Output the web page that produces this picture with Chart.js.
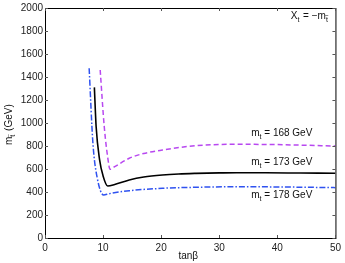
<!DOCTYPE html>
<html>
<head>
<meta charset="utf-8">
<script src="https://cdn.jsdelivr.net/npm/chart.js@4"></script>
<style>
  html, body { margin: 0; padding: 0; background: #fff; }
  #wrap { width: 345px; height: 263px; }
</style>
</head>
<body>
<div id="wrap"><canvas id="c" width="345" height="263"></canvas></div>
<script>
// tanβ / stop mass curves
const tanB168 = [9.5, 10.2, 10.8, 11.2, 12, 14.5, 17, 20.2, 26, 33, 40, 50];
const mst168  = [1461, 968, 700, 597, 620, 693, 735, 765, 803, 815, 812, 800];

const tanB173 = [8.5, 8.8, 9.4, 10.0, 10.8, 12, 14.5, 17, 20.2, 23, 26, 30, 33, 38, 44, 50];
const mst173  = [1310, 970, 680, 540, 452, 465, 504, 530, 548, 557, 562, 566, 568, 567, 565, 563];

const tanB178 = [7.6, 8.25, 9.0, 10.1, 11, 14.5, 20.2, 26, 33, 40, 50];
const mst178  = [1476, 823, 520, 374, 385, 411, 432, 441, 446, 444, 438];

const xTicks = [0, 10, 20, 30, 40, 50];
const yTicks = [0, 200, 400, 600, 800, 1000, 1200, 1400, 1600, 1800, 2000];

const FONT = "Liberation Sans, Arial, sans-serif";

function pts(xs, ys) {
    return xs.map((x, i) => ({ x: x, y: ys[i] }));
}

// subscripted text helper; a part may carry a tilde over it
function subText(ctx, x, y, parts) {
    let cx = x;
    parts.forEach(p => {
        ctx.font = (p.sub ? "7px " : "10px ") + FONT;
        const yy = y + (p.sub ? 4 : 0);
        ctx.fillText(p.t, cx, yy);
        const w = ctx.measureText(p.t).width;
        if (p.tilde) {
            ctx.font = "6px " + FONT;
            const tw = ctx.measureText('~').width;
            ctx.fillText('~', cx + (w - tw) / 2, yy - 4.5);
        }
        cx += w + (p.gap || 0);
    });
}

// frame, inside ticks and the text annotations
const decor = {
    id: 'decor',
    afterDraw(chart) {
        const ctx = chart.ctx;
        const a = chart.chartArea;
        const xs = chart.scales.x, ys = chart.scales.y;
        ctx.save();
        ctx.strokeStyle = '#000';
        ctx.lineWidth = 1;
        ctx.strokeRect(a.left + 0.5, a.top + 0.5, a.right - a.left, a.bottom - a.top);
        ctx.strokeStyle = '#555';
        ctx.beginPath();
        xTicks.forEach(v => {
            const px = Math.round(xs.getPixelForValue(v)) + 0.5;
            ctx.moveTo(px, a.bottom); ctx.lineTo(px, a.bottom - 3);
            ctx.moveTo(px, a.top); ctx.lineTo(px, a.top + 3);
        });
        yTicks.forEach(v => {
            const py = Math.round(ys.getPixelForValue(v)) + 0.5;
            ctx.moveTo(a.left, py); ctx.lineTo(a.left + 3, py);
            ctx.moveTo(a.right, py); ctx.lineTo(a.right - 3, py);
        });
        ctx.stroke();

        ctx.fillStyle = '#111';
        ctx.textBaseline = 'middle';
        ctx.textAlign = 'left';
        subText(ctx, xs.getPixelForValue(35.5), ys.getPixelForValue(910),
            [{ t: 'm' }, { t: 't', sub: true }, { t: ' = 168 GeV' }]);
        subText(ctx, xs.getPixelForValue(35.5), ys.getPixelForValue(660),
            [{ t: 'm' }, { t: 't', sub: true }, { t: ' = 173 GeV' }]);
        subText(ctx, xs.getPixelForValue(35.5), ys.getPixelForValue(375),
            [{ t: 'm' }, { t: 't', sub: true }, { t: ' = 178 GeV' }]);
        subText(ctx, xs.getPixelForValue(42.3), ys.getPixelForValue(1930),
            [{ t: 'X' }, { t: 't', sub: true, gap: 1 }, { t: ' = \u2212m' }, { t: 't', sub: true, tilde: true }]);

        // axis titles
        ctx.textAlign = 'center';
        ctx.font = "10px " + FONT;
        ctx.fillText('tan\u03b2', (a.left + a.right) / 2 - 2, 256);
        ctx.translate(9, 123);
        ctx.rotate(-Math.PI / 2);
        ctx.textAlign = 'left';
        subText(ctx, -22, 0, [{ t: 'm' }, { t: 't', sub: true, tilde: true, gap: 1 }, { t: ' (GeV)' }]);
        ctx.restore();
    }
};

new Chart(document.getElementById('c'), {
    type: 'line',
    data: {
        datasets: [
            {
                data: pts(tanB168, mst168),
                borderColor: '#b848f0',
                borderWidth: 1.5,
                borderDash: [5, 3],
                cubicInterpolationMode: 'monotone',
                pointRadius: 0
            },
            {
                data: pts(tanB173, mst173),
                borderColor: '#000',
                borderWidth: 1.6,
                cubicInterpolationMode: 'monotone',
                pointRadius: 0
            },
            {
                data: pts(tanB178, mst178),
                borderColor: '#2f52f0',
                borderWidth: 1.5,
                borderDash: [6, 2, 1.5, 2],
                cubicInterpolationMode: 'monotone',
                pointRadius: 0
            }
        ]
    },
    options: {
        responsive: false,
        animation: false,
        layout: { padding: { left: 0, right: 7, top: 8, bottom: 0 } },
        plugins: { legend: { display: false }, tooltip: { enabled: false } },
        scales: {
            x: {
                type: 'linear', min: 0, max: 50,
                afterFit: s => { s.height = 25; },
                afterBuildTicks: s => { s.ticks = xTicks.map(v => ({ value: v })); },
                grid: { display: false, drawTicks: false },
                border: { display: false },
                ticks: { padding: 4, color: '#222', font: { family: FONT, size: 10 }, maxRotation: 0,
                         callback: v => String(v) }
            },
            y: {
                type: 'linear', min: 0, max: 2000,
                afterFit: s => { s.width = 45; },
                afterBuildTicks: s => { s.ticks = yTicks.map(v => ({ value: v })); },
                grid: { display: false, drawTicks: false },
                border: { display: false },
                ticks: { padding: 2, color: '#222', font: { family: FONT, size: 10 },
                         callback: v => String(v) }
            }
        }
    },
    plugins: [decor]
});
</script>
</body>
</html>
